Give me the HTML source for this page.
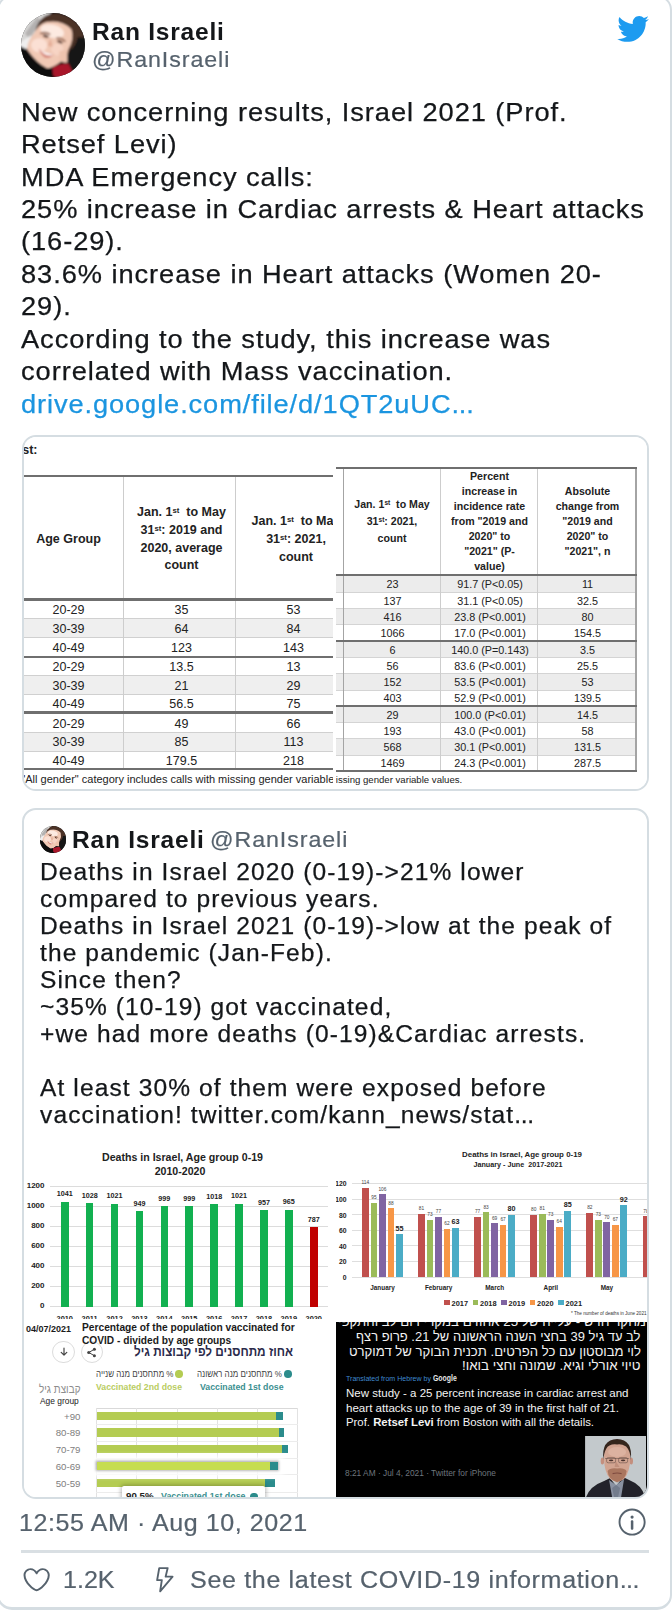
<!DOCTYPE html>
<html><head><meta charset="utf-8">
<style>
html,body{margin:0;padding:0;background:#fff;}
body{width:672px;height:1610px;position:relative;overflow:hidden;font-family:"Liberation Sans",sans-serif;color:#14171a;}
.abs{position:absolute;}
.card{position:absolute;left:-3px;top:-4.8px;width:671.4px;height:1610px;border:2px solid #d5dde2;border-bottom-width:3px;border-radius:15px;box-sizing:content-box;}
.t{-webkit-text-stroke:0.25px #14171a;position:absolute;left:20.6px;white-space:pre;font-size:25.5px;line-height:32px;letter-spacing:0.88px;transform:scaleX(1.068);transform-origin:0 0;color:#14171a;}
.name{position:absolute;font-size:23.6px;font-weight:700;letter-spacing:0.74px;transform:scaleX(1.04);transform-origin:0 0;line-height:26px;white-space:pre;color:#14171a;}
.handle{position:absolute;font-size:21.3px;letter-spacing:0.85px;transform:scaleX(1.09);transform-origin:0 0;line-height:26px;color:#56626d;-webkit-text-stroke:0.2px #56626d;white-space:pre;}
.box{position:absolute;left:21.5px;width:627px;border:2px solid #d5dde2;border-radius:14px;overflow:hidden;box-sizing:border-box;background:#fff;}
.q{-webkit-text-stroke:0.25px #14171a;position:absolute;left:39.5px;white-space:pre;font-size:23px;line-height:27px;letter-spacing:1.05px;transform:scaleX(1.066);transform-origin:0 0;color:#14171a;}
.meta{position:absolute;color:#56626d;-webkit-text-stroke:0.2px #56626d;font-size:23px;letter-spacing:0.51px;transform:scaleX(1.09);transform-origin:0 0;white-space:pre;line-height:28px;}
.c{position:absolute;white-space:pre;text-align:center;transform:translate(-50%,-50%);}
.r{position:absolute;white-space:pre;text-align:right;transform:translate(-100%,-50%);}
.l{position:absolute;white-space:pre;transform:translate(0,-50%);}
.tb{font-size:12.5px;color:#222;}
.th{font-size:12.5px;font-weight:700;color:#222;line-height:17px;}
.tb2{font-size:10.8px;color:#222;}
.th2{font-size:10.6px;font-weight:700;color:#222;line-height:14.9px;}
sup{font-size:62%;vertical-align:baseline;position:relative;top:-0.45em;}
</style></head>
<body>
<div class="card"></div>

<svg width="0" height="0" style="position:absolute"><defs>
<filter id="b1" x="-20%" y="-20%" width="140%" height="140%"><feGaussianBlur stdDeviation="0.95"/></filter>

</defs></svg>
<div id="av" class="abs" style="left:20.7px;top:12.8px;width:64.6px;height:64.6px;border-radius:50%;overflow:hidden;background:#222;">
<svg width="64.6" height="64.6" viewBox="0 0 64 64"><g filter="url(#b1)">
<rect x="-4" y="-4" width="72" height="72" fill="#141418"/>
<path d="M-4 -4 L32 -4 L20 14 L12 30 L-4 40Z" fill="#d6d5d4"/>
<path d="M4 20 L16 4 L20 8 L8 26Z" fill="#b3b1b0"/>
<path d="M-2 30 L10 22 L10 34 L-2 38Z" fill="#efeeee"/>
<path d="M14 19 Q16 8 24 3 Q34 -3 48 4 Q60 11 63 24 L56 24 Q54 34 49 36 Q47 42 45 40 Q49 28 50 17 Q40 7 25 9 Q18 12 14 19Z" fill="#4b3026"/>
<path d="M13 20 Q18 11 25 9 Q40 6 50 16 Q53 26 47 36 Q45 44 40 47 Q34 55 26 55 Q14 50 6 36 Q6 28 13 20Z" fill="#f1c9b5"/>
<ellipse cx="31" cy="18" rx="12" ry="6.5" transform="rotate(14 31 18)" fill="#fdeae1"/>
<ellipse cx="18" cy="32" rx="8" ry="7" fill="#fbe0d4"/>
<ellipse cx="36" cy="36" rx="6" ry="6" fill="#f7d4c4"/>
<path d="M38 38 L46 36 L46 49 L38 50Z" fill="#eec3ae"/>
<path d="M19 20.5 Q24 18 29 21.5" stroke="#8a5a45" stroke-width="1.6" fill="none"/>
<path d="M35 25 Q40 24 44 28.5" stroke="#8a5a45" stroke-width="1.6" fill="none"/>
<ellipse cx="24.5" cy="23" rx="3" ry="1.4" transform="rotate(14 24.5 23)" fill="#5d3c31"/>
<ellipse cx="38.5" cy="28.5" rx="3" ry="1.4" transform="rotate(22 38.5 28.5)" fill="#5d3c31"/>
<path d="M29 25 L26.5 32.5 L31.5 33.5Z" fill="#e4ad97"/>
<path d="M17.5 35.5 Q24 40.5 32.5 40.5 Q29 45.5 24 44.5 Q19.5 42 17.5 35.5Z" fill="#d88c80"/>
<path d="M18.5 36.5 Q25 40.5 32 40.8 Q26 44.5 18.5 36.5Z" fill="#ffffff"/>
<path d="M-4 33 Q3 33 8 39 Q16 50 26 55 Q32 54 40 48 L45 50 L47 68 L-4 68Z" fill="#0e0e11"/>
<path d="M31 54 Q38 50 47 50 L52 60 L40 68 L32 62Z" fill="#a8142a"/>
</g></svg></div>
<div class="name" style="left:91.8px;top:18.8px">Ran Israeli</div>
<div class="handle" style="left:92px;top:46.5px">@RanIsraeli</div>
<svg class="abs" style="left:616.1px;top:12.4px" width="33.4" height="33.8" viewBox="0 0 24 24" preserveAspectRatio="none"><path fill="#1d9bf0" d="M23.643 4.937c-.835.37-1.732.62-2.675.733.962-.576 1.7-1.49 2.048-2.578-.9.534-1.897.922-2.958 1.13-.85-.904-2.06-1.47-3.4-1.47-2.572 0-4.658 2.086-4.658 4.66 0 .364.042.718.12 1.06-3.873-.195-7.304-2.05-9.602-4.868-.4.69-.63 1.49-.63 2.342 0 1.616.823 3.043 2.072 3.878-.764-.025-1.482-.234-2.11-.583v.06c0 2.257 1.605 4.14 3.737 4.568-.392.106-.803.162-1.227.162-.3 0-.593-.028-.877-.082.593 1.85 2.313 3.198 4.352 3.234-1.595 1.25-3.604 1.995-5.786 1.995-.376 0-.747-.022-1.112-.065 2.062 1.323 4.51 2.093 7.14 2.093 8.57 0 13.255-7.098 13.255-13.254 0-.2-.005-.402-.014-.602.91-.658 1.7-1.477 2.323-2.41z"/></svg>

<div class="t" style="top:95.6px">New concerning results, Israel 2021 (Prof.</div>
<div class="t" style="top:128.1px">Retsef Levi)</div>
<div class="t" style="top:160.5px">MDA Emergency calls:</div>
<div class="t" style="top:192.9px">25% increase in Cardiac arrests &amp; Heart attacks</div>
<div class="t" style="top:225.4px">(16-29).</div>
<div class="t" style="top:257.9px">83.6% increase in Heart attacks (Women 20-</div>
<div class="t" style="top:290.3px">29).</div>
<div class="t" style="top:322.8px">According to the study, this increase was</div>
<div class="t" style="top:355.2px">correlated with Mass vaccination.</div>
<div class="t" style="top:387.6px;color:#1b95e0;-webkit-text-stroke-color:#1b95e0;letter-spacing:0.84px">drive.google.com/file/d/1QT2uUC<span style="letter-spacing:-0.2px">...</span></div>
<div class="box" id="tbl" style="top:435px;height:355.5px;">
<div class="abs" style="left:-23.5px;top:-437px;width:672px;height:1610px;">
<div class="abs" style="left:23.5px;top:437px;width:309.5px;height:352px;overflow:hidden;background:#fff;"><div class="abs" style="left:-23.5px;top:-437px;width:672px;height:1610px;">
<div class="l th" style="left:22.2px;top:449.6px;font-size:12.5px;">st:</div>
<div class="abs" style="left:23.5px;top:618.75px;width:312px;height:18.75px;background:#efefef"></div>
<div class="abs" style="left:23.5px;top:675.75px;width:312px;height:18.75px;background:#efefef"></div>
<div class="abs" style="left:23.5px;top:732.5px;width:312px;height:18.5px;background:#efefef"></div>
<div class="abs" style="left:23.5px;top:618.25px;width:312px;height:1px;background:#d0d0d0"></div>
<div class="abs" style="left:23.5px;top:637.0px;width:312px;height:1px;background:#d0d0d0"></div>
<div class="abs" style="left:23.5px;top:675.25px;width:312px;height:1px;background:#d0d0d0"></div>
<div class="abs" style="left:23.5px;top:694.0px;width:312px;height:1px;background:#d0d0d0"></div>
<div class="abs" style="left:23.5px;top:732.0px;width:312px;height:1px;background:#d0d0d0"></div>
<div class="abs" style="left:23.5px;top:750.5px;width:312px;height:1px;background:#d0d0d0"></div>
<div class="abs" style="left:122.9px;top:476px;width:1px;height:293px;background:#cdcdcd"></div>
<div class="abs" style="left:235.4px;top:476px;width:1px;height:293px;background:#cdcdcd"></div>
<div class="abs" style="left:23.5px;top:475.09999999999997px;width:312px;height:2.2px;background:#6f6f6f"></div>
<div class="abs" style="left:23.5px;top:598.4px;width:312px;height:2.2px;background:#6f6f6f"></div>
<div class="abs" style="left:23.5px;top:655.65px;width:312px;height:2.2px;background:#6f6f6f"></div>
<div class="abs" style="left:23.5px;top:711.4px;width:312px;height:2.2px;background:#6f6f6f"></div>
<div class="abs" style="left:23.5px;top:768.15px;width:312px;height:2.2px;background:#6f6f6f"></div>
<div class="c th" style="left:68.5px;top:539px">Age Group</div>
<div class="c th" style="left:181.5px;top:539px">Jan. 1<sup>st</sup>  to May
31<sup>st</sup>: 2019 and
2020, average
count</div>
<div class="c th" style="left:296px;top:539px">Jan. 1<sup>st</sup>  to May
31<sup>st</sup>: 2021,
count</div>
<div class="c tb" style="left:68.5px;top:610px">20-29</div><div class="c tb" style="left:181.5px;top:610px">35</div><div class="c tb" style="left:293.5px;top:610px">53</div>
<div class="c tb" style="left:68.5px;top:628.75px">30-39</div><div class="c tb" style="left:181.5px;top:628.75px">64</div><div class="c tb" style="left:293.5px;top:628.75px">84</div>
<div class="c tb" style="left:68.5px;top:647.5px">40-49</div><div class="c tb" style="left:181.5px;top:647.5px">123</div><div class="c tb" style="left:293.5px;top:647.5px">143</div>
<div class="c tb" style="left:68.5px;top:666.75px">20-29</div><div class="c tb" style="left:181.5px;top:666.75px">13.5</div><div class="c tb" style="left:293.5px;top:666.75px">13</div>
<div class="c tb" style="left:68.5px;top:685.5px">30-39</div><div class="c tb" style="left:181.5px;top:685.5px">21</div><div class="c tb" style="left:293.5px;top:685.5px">29</div>
<div class="c tb" style="left:68.5px;top:704.4px">40-49</div><div class="c tb" style="left:181.5px;top:704.4px">56.5</div><div class="c tb" style="left:293.5px;top:704.4px">75</div>
<div class="c tb" style="left:68.5px;top:723.5px">20-29</div><div class="c tb" style="left:181.5px;top:723.5px">49</div><div class="c tb" style="left:293.5px;top:723.5px">66</div>
<div class="c tb" style="left:68.5px;top:741.9px">30-39</div><div class="c tb" style="left:181.5px;top:741.9px">85</div><div class="c tb" style="left:293.5px;top:741.9px">113</div>
<div class="c tb" style="left:68.5px;top:760.5px">40-49</div><div class="c tb" style="left:181.5px;top:760.5px">179.5</div><div class="c tb" style="left:293.5px;top:760.5px">218</div>
<div class="l" style="left:23.2px;top:778.5px;font-size:11px;color:#222;">'All gender" category includes calls with missing gender variable values</div>
</div></div>
<div class="abs" style="left:336px;top:437px;width:310.5px;height:352px;overflow:hidden;background:#fff;"><div class="abs" style="left:-336px;top:-437px;width:672px;height:1610px;">
<div class="abs" style="left:336px;top:576.16px;width:300px;height:16.27px;background:#ececec"></div>
<div class="abs" style="left:336px;top:608.66px;width:300px;height:16.27px;background:#ececec"></div>
<div class="abs" style="left:336px;top:641.37px;width:300px;height:16.27px;background:#ececec"></div>
<div class="abs" style="left:336px;top:673.87px;width:300px;height:16.27px;background:#ececec"></div>
<div class="abs" style="left:336px;top:706.47px;width:300px;height:16.27px;background:#ececec"></div>
<div class="abs" style="left:336px;top:738.87px;width:300px;height:16.27px;background:#ececec"></div>
<div class="abs" style="left:336px;top:591.90px;width:300px;height:1px;background:#d4d4d4"></div>
<div class="abs" style="left:336px;top:608.15px;width:300px;height:1px;background:#d4d4d4"></div>
<div class="abs" style="left:336px;top:624.45px;width:300px;height:1px;background:#d4d4d4"></div>
<div class="abs" style="left:336px;top:657.15px;width:300px;height:1px;background:#d4d4d4"></div>
<div class="abs" style="left:336px;top:673.40px;width:300px;height:1px;background:#d4d4d4"></div>
<div class="abs" style="left:336px;top:689.65px;width:300px;height:1px;background:#d4d4d4"></div>
<div class="abs" style="left:336px;top:722.20px;width:300px;height:1px;background:#d4d4d4"></div>
<div class="abs" style="left:336px;top:738.40px;width:300px;height:1px;background:#d4d4d4"></div>
<div class="abs" style="left:336px;top:754.65px;width:300px;height:1px;background:#d4d4d4"></div>
<div class="abs" style="left:440.09999999999997px;top:468px;width:1px;height:303px;background:#cdcdcd"></div>
<div class="abs" style="left:536.9px;top:468px;width:1px;height:303px;background:#cdcdcd"></div>
<div class="abs" style="left:343.0px;top:468px;width:1.2px;height:303px;background:#a4a4a4"></div>
<div class="abs" style="left:635.4px;top:468px;width:1.2px;height:303px;background:#a4a4a4"></div>
<div class="abs" style="left:336px;top:466.7px;width:300.6px;height:2.2px;background:#6f6f6f"></div>
<div class="abs" style="left:336px;top:574.1px;width:300.6px;height:2.2px;background:#6f6f6f"></div>
<div class="abs" style="left:336px;top:639.6999999999999px;width:300.6px;height:2.2px;background:#6f6f6f"></div>
<div class="abs" style="left:336px;top:704.9px;width:300.6px;height:2.2px;background:#6f6f6f"></div>
<div class="abs" style="left:336px;top:770.1999999999999px;width:300.6px;height:2.2px;background:#6f6f6f"></div>
<div class="c th2" style="left:392px;top:521.2px">Jan. 1<sup>st</sup>  to May
31<sup>st</sup>: 2021,
count</div>
<div class="c th2" style="left:489.5px;top:521.4px">Percent
increase in
incidence rate
from "2019 and
2020" to
"2021" (P-
value)</div>
<div class="c th2" style="left:587.5px;top:521.2px">Absolute
change from
"2019 and
2020" to
"2021", n</div>
<div class="c tb2" style="left:392.5px;top:584.3px">23</div><div class="c tb2" style="left:490px;top:584.3px">91.7 (P&lt;0.05)</div><div class="c tb2" style="left:587.5px;top:584.3px">11</div>
<div class="c tb2" style="left:392.5px;top:600.5px">137</div><div class="c tb2" style="left:490px;top:600.5px">31.1 (P&lt;0.05)</div><div class="c tb2" style="left:587.5px;top:600.5px">32.5</div>
<div class="c tb2" style="left:392.5px;top:616.8px">416</div><div class="c tb2" style="left:490px;top:616.8px">23.8 (P&lt;0.001)</div><div class="c tb2" style="left:587.5px;top:616.8px">80</div>
<div class="c tb2" style="left:392.5px;top:633.1px">1066</div><div class="c tb2" style="left:490px;top:633.1px">17.0 (P&lt;0.001)</div><div class="c tb2" style="left:587.5px;top:633.1px">154.5</div>
<div class="c tb2" style="left:392.5px;top:649.5px">6</div><div class="c tb2" style="left:490px;top:649.5px">140.0 (P=0.143)</div><div class="c tb2" style="left:587.5px;top:649.5px">3.5</div>
<div class="c tb2" style="left:392.5px;top:665.8px">56</div><div class="c tb2" style="left:490px;top:665.8px">83.6 (P&lt;0.001)</div><div class="c tb2" style="left:587.5px;top:665.8px">25.5</div>
<div class="c tb2" style="left:392.5px;top:682px">152</div><div class="c tb2" style="left:490px;top:682px">53.5 (P&lt;0.001)</div><div class="c tb2" style="left:587.5px;top:682px">53</div>
<div class="c tb2" style="left:392.5px;top:698.3px">403</div><div class="c tb2" style="left:490px;top:698.3px">52.9 (P&lt;0.001)</div><div class="c tb2" style="left:587.5px;top:698.3px">139.5</div>
<div class="c tb2" style="left:392.5px;top:714.6px">29</div><div class="c tb2" style="left:490px;top:714.6px">100.0 (P&lt;0.01)</div><div class="c tb2" style="left:587.5px;top:714.6px">14.5</div>
<div class="c tb2" style="left:392.5px;top:730.8px">193</div><div class="c tb2" style="left:490px;top:730.8px">43.0 (P&lt;0.001)</div><div class="c tb2" style="left:587.5px;top:730.8px">58</div>
<div class="c tb2" style="left:392.5px;top:747px">568</div><div class="c tb2" style="left:490px;top:747px">30.1 (P&lt;0.001)</div><div class="c tb2" style="left:587.5px;top:747px">131.5</div>
<div class="c tb2" style="left:392.5px;top:763.3px">1469</div><div class="c tb2" style="left:490px;top:763.3px">24.3 (P&lt;0.001)</div><div class="c tb2" style="left:587.5px;top:763.3px">287.5</div>
<div class="l" style="left:330.5px;top:778.7px;font-size:9.6px;color:#222;">nissing gender variable values.</div>
</div></div>
</div></div>
<div class="box" id="quote" style="top:808px;height:690.5px;">
<div class="abs" style="left:-23.5px;top:-810px;width:672px;height:1610px;">
<div class="abs" style="left:39.8px;top:826.4px;width:26.5px;height:26.5px;border-radius:50%;overflow:hidden;background:#222;">
<svg width="26.5" height="26.5" viewBox="0 0 64 64"><g filter="url(#b1)">
<rect x="-4" y="-4" width="72" height="72" fill="#141418"/>
<path d="M-4 -4 L32 -4 L20 14 L12 30 L-4 40Z" fill="#d6d5d4"/>
<path d="M4 20 L16 4 L20 8 L8 26Z" fill="#b3b1b0"/>
<path d="M-2 30 L10 22 L10 34 L-2 38Z" fill="#efeeee"/>
<path d="M14 19 Q16 8 24 3 Q34 -3 48 4 Q60 11 63 24 L56 24 Q54 34 49 36 Q47 42 45 40 Q49 28 50 17 Q40 7 25 9 Q18 12 14 19Z" fill="#4b3026"/>
<path d="M13 20 Q18 11 25 9 Q40 6 50 16 Q53 26 47 36 Q45 44 40 47 Q34 55 26 55 Q14 50 6 36 Q6 28 13 20Z" fill="#f1c9b5"/>
<ellipse cx="31" cy="18" rx="12" ry="6.5" transform="rotate(14 31 18)" fill="#fdeae1"/>
<ellipse cx="18" cy="32" rx="8" ry="7" fill="#fbe0d4"/>
<ellipse cx="36" cy="36" rx="6" ry="6" fill="#f7d4c4"/>
<path d="M38 38 L46 36 L46 49 L38 50Z" fill="#eec3ae"/>
<path d="M19 20.5 Q24 18 29 21.5" stroke="#8a5a45" stroke-width="1.6" fill="none"/>
<path d="M35 25 Q40 24 44 28.5" stroke="#8a5a45" stroke-width="1.6" fill="none"/>
<ellipse cx="24.5" cy="23" rx="3" ry="1.4" transform="rotate(14 24.5 23)" fill="#5d3c31"/>
<ellipse cx="38.5" cy="28.5" rx="3" ry="1.4" transform="rotate(22 38.5 28.5)" fill="#5d3c31"/>
<path d="M29 25 L26.5 32.5 L31.5 33.5Z" fill="#e4ad97"/>
<path d="M17.5 35.5 Q24 40.5 32.5 40.5 Q29 45.5 24 44.5 Q19.5 42 17.5 35.5Z" fill="#d88c80"/>
<path d="M18.5 36.5 Q25 40.5 32 40.8 Q26 44.5 18.5 36.5Z" fill="#ffffff"/>
<path d="M-4 33 Q3 33 8 39 Q16 50 26 55 Q32 54 40 48 L45 50 L47 68 L-4 68Z" fill="#0e0e11"/>
<path d="M31 54 Q38 50 47 50 L52 60 L40 68 L32 62Z" fill="#a8142a"/>
</g></svg></div>
<div class="name" style="left:72.4px;top:827.1px">Ran Israeli</div>
<div class="handle" style="left:210px;top:827px">@RanIsraeli</div>
<div class="q" style="top:859.0px">Deaths in Israel 2020 (0-19)-&gt;21% lower</div>
<div class="q" style="top:886.0px">compared to previous years.</div>
<div class="q" style="top:913.1px">Deaths in Israel 2021 (0-19)-&gt;low at the peak of</div>
<div class="q" style="top:940.1px">the pandemic (Jan-Feb).</div>
<div class="q" style="top:967.1px">Since then?</div>
<div class="q" style="top:994.1px">~35% (10-19) got vaccinated,</div>
<div class="q" style="top:1021.2px">+we had more deaths (0-19)&amp;Cardiac arrests.</div>
<div class="q" style="top:1075.2px">At least 30% of them were exposed before</div>
<div class="q" style="top:1102.3px">vaccination! twitter.com/kann_news/stat<span style="letter-spacing:-0.3px">...</span></div>
<div class="abs" style="left:23.5px;top:1139px;width:309.5px;height:180px;overflow:hidden;background:#fff;"><div class="abs" style="left:-23.5px;top:-1139px;width:672px;height:1610px;font-weight:700;color:#222">
<div class="c" style="left:182.5px;top:1156.5px;font-size:10.6px;">Deaths in Israel, Age group 0-19</div>
<div class="c" style="left:180px;top:1171px;font-size:10.6px;">2010-2020</div>
<div class="abs" style="left:50px;top:1306.4px;width:278px;height:1px;background:#dcdcdc"></div>
<div class="r" style="left:44.5px;top:1305.4px;font-size:8px;">0</div>
<div class="abs" style="left:50px;top:1285.5px;width:278px;height:1px;background:#dcdcdc"></div>
<div class="r" style="left:44.5px;top:1285.4px;font-size:8px;">200</div>
<div class="abs" style="left:50px;top:1265.5px;width:278px;height:1px;background:#dcdcdc"></div>
<div class="r" style="left:44.5px;top:1265.4px;font-size:8px;">400</div>
<div class="abs" style="left:50px;top:1245.5px;width:278px;height:1px;background:#dcdcdc"></div>
<div class="r" style="left:44.5px;top:1245.4px;font-size:8px;">600</div>
<div class="abs" style="left:50px;top:1225.5px;width:278px;height:1px;background:#dcdcdc"></div>
<div class="r" style="left:44.5px;top:1225.4px;font-size:8px;">800</div>
<div class="abs" style="left:50px;top:1205.5px;width:278px;height:1px;background:#dcdcdc"></div>
<div class="r" style="left:44.5px;top:1205.4px;font-size:8px;">1000</div>
<div class="abs" style="left:50px;top:1185.5px;width:278px;height:1px;background:#dcdcdc"></div>
<div class="r" style="left:44.5px;top:1185.4px;font-size:8px;">1200</div>
<div class="abs" style="left:60.95px;top:1201.9px;width:7.6px;height:104.9px;background:#12b050"></div>
<div class="c" style="left:64.75px;top:1193.3px;font-size:7.2px;">1041</div>
<div class="c" style="left:64.75px;top:1317.6px;font-size:7.4px;">2010</div>
<div class="abs" style="left:85.85px;top:1203.2px;width:7.6px;height:103.6px;background:#12b050"></div>
<div class="c" style="left:89.65px;top:1194.6px;font-size:7.2px;">1028</div>
<div class="c" style="left:89.65px;top:1317.6px;font-size:7.4px;">2011</div>
<div class="abs" style="left:110.75px;top:1203.9px;width:7.6px;height:102.9px;background:#12b050"></div>
<div class="c" style="left:114.55px;top:1195.3px;font-size:7.2px;">1021</div>
<div class="c" style="left:114.55px;top:1317.6px;font-size:7.4px;">2012</div>
<div class="abs" style="left:135.65px;top:1211.1px;width:7.6px;height:95.7px;background:#12b050"></div>
<div class="c" style="left:139.45px;top:1202.5px;font-size:7.2px;">949</div>
<div class="c" style="left:139.45px;top:1317.6px;font-size:7.4px;">2013</div>
<div class="abs" style="left:160.55px;top:1206.1px;width:7.6px;height:100.7px;background:#12b050"></div>
<div class="c" style="left:164.35px;top:1197.5px;font-size:7.2px;">999</div>
<div class="c" style="left:164.35px;top:1317.6px;font-size:7.4px;">2014</div>
<div class="abs" style="left:185.45px;top:1206.1px;width:7.6px;height:100.7px;background:#12b050"></div>
<div class="c" style="left:189.25px;top:1197.5px;font-size:7.2px;">999</div>
<div class="c" style="left:189.25px;top:1317.6px;font-size:7.4px;">2015</div>
<div class="abs" style="left:210.35px;top:1204.2px;width:7.6px;height:102.6px;background:#12b050"></div>
<div class="c" style="left:214.15px;top:1195.6px;font-size:7.2px;">1018</div>
<div class="c" style="left:214.15px;top:1317.6px;font-size:7.4px;">2016</div>
<div class="abs" style="left:235.25px;top:1203.9px;width:7.6px;height:102.9px;background:#12b050"></div>
<div class="c" style="left:239.05px;top:1195.3px;font-size:7.2px;">1021</div>
<div class="c" style="left:239.05px;top:1317.6px;font-size:7.4px;">2017</div>
<div class="abs" style="left:260.15px;top:1210.3px;width:7.6px;height:96.5px;background:#12b050"></div>
<div class="c" style="left:263.95px;top:1201.7px;font-size:7.2px;">957</div>
<div class="c" style="left:263.95px;top:1317.6px;font-size:7.4px;">2018</div>
<div class="abs" style="left:285.05px;top:1209.5px;width:7.6px;height:97.3px;background:#12b050"></div>
<div class="c" style="left:288.85px;top:1200.9px;font-size:7.2px;">965</div>
<div class="c" style="left:288.85px;top:1317.6px;font-size:7.4px;">2019</div>
<div class="abs" style="left:309.95px;top:1227.3px;width:7.6px;height:79.5px;background:#c00000"></div>
<div class="c" style="left:313.75px;top:1218.7px;font-size:7.2px;">787</div>
<div class="c" style="left:313.75px;top:1317.6px;font-size:7.4px;">2020</div>
</div></div>
<div class="abs" style="left:336px;top:1139px;width:310.5px;height:180.5px;overflow:hidden;background:#fff;"><div class="abs" style="left:-336px;top:-1139px;width:672px;height:1610px;color:#222">
<div class="c" style="left:522px;top:1153.5px;font-size:7.9px;font-weight:700">Deaths in Israel, Age group 0-19</div>
<div class="c" style="left:518px;top:1163.8px;font-size:7.2px;font-weight:700">January - June  2017-2021</div>
<div class="abs" style="left:352px;top:1276.50px;width:296px;height:1px;background:#dedede"></div>
<div class="r" style="left:346.5px;top:1277.00px;font-size:6.8px;font-weight:700">0</div>
<div class="abs" style="left:352px;top:1260.90px;width:296px;height:1px;background:#dedede"></div>
<div class="r" style="left:346.5px;top:1261.40px;font-size:6.8px;font-weight:700">20</div>
<div class="abs" style="left:352px;top:1245.30px;width:296px;height:1px;background:#dedede"></div>
<div class="r" style="left:346.5px;top:1245.80px;font-size:6.8px;font-weight:700">40</div>
<div class="abs" style="left:352px;top:1229.70px;width:296px;height:1px;background:#dedede"></div>
<div class="r" style="left:346.5px;top:1230.20px;font-size:6.8px;font-weight:700">60</div>
<div class="abs" style="left:352px;top:1214.10px;width:296px;height:1px;background:#dedede"></div>
<div class="r" style="left:346.5px;top:1214.60px;font-size:6.8px;font-weight:700">80</div>
<div class="abs" style="left:352px;top:1198.50px;width:296px;height:1px;background:#dedede"></div>
<div class="r" style="left:346.5px;top:1199.00px;font-size:6.8px;font-weight:700">100</div>
<div class="abs" style="left:352px;top:1182.90px;width:296px;height:1px;background:#dedede"></div>
<div class="r" style="left:346.5px;top:1183.40px;font-size:6.8px;font-weight:700">120</div>
<div class="abs" style="left:362.00px;top:1188.08px;width:6.8px;height:88.92px;background:#c0504d"></div>
<div class="c" style="left:365.40px;top:1182.48px;font-size:4.8px;color:#444">114</div>
<div class="abs" style="left:370.50px;top:1202.90px;width:6.8px;height:74.10px;background:#9bbb59"></div>
<div class="c" style="left:373.90px;top:1197.30px;font-size:4.8px;color:#444">95</div>
<div class="abs" style="left:379.00px;top:1194.32px;width:6.8px;height:82.68px;background:#8064a2"></div>
<div class="c" style="left:382.40px;top:1188.72px;font-size:4.8px;color:#444">106</div>
<div class="abs" style="left:387.50px;top:1208.36px;width:6.8px;height:68.64px;background:#f79646"></div>
<div class="c" style="left:390.90px;top:1202.76px;font-size:4.8px;color:#444">88</div>
<div class="abs" style="left:396.00px;top:1234.10px;width:6.8px;height:42.90px;background:#4bacc6"></div>
<div class="c" style="left:399.40px;top:1227.50px;font-size:7.2px;font-weight:700">55</div>
<div class="c" style="left:382.50px;top:1286.5px;font-size:6.4px;font-weight:700">January</div>
<div class="abs" style="left:418.10px;top:1213.82px;width:6.8px;height:63.18px;background:#c0504d"></div>
<div class="c" style="left:421.50px;top:1208.22px;font-size:4.8px;color:#444">81</div>
<div class="abs" style="left:426.60px;top:1220.06px;width:6.8px;height:56.94px;background:#9bbb59"></div>
<div class="c" style="left:430.00px;top:1214.46px;font-size:4.8px;color:#444">73</div>
<div class="abs" style="left:435.10px;top:1216.94px;width:6.8px;height:60.06px;background:#8064a2"></div>
<div class="c" style="left:438.50px;top:1211.34px;font-size:4.8px;color:#444">77</div>
<div class="abs" style="left:443.60px;top:1228.64px;width:6.8px;height:48.36px;background:#f79646"></div>
<div class="c" style="left:447.00px;top:1223.04px;font-size:4.8px;color:#444">62</div>
<div class="abs" style="left:452.10px;top:1227.86px;width:6.8px;height:49.14px;background:#4bacc6"></div>
<div class="c" style="left:455.50px;top:1221.26px;font-size:7.2px;font-weight:700">63</div>
<div class="c" style="left:438.60px;top:1286.5px;font-size:6.4px;font-weight:700">February</div>
<div class="abs" style="left:474.20px;top:1216.94px;width:6.8px;height:60.06px;background:#c0504d"></div>
<div class="c" style="left:477.60px;top:1211.34px;font-size:4.8px;color:#444">77</div>
<div class="abs" style="left:482.70px;top:1212.26px;width:6.8px;height:64.74px;background:#9bbb59"></div>
<div class="c" style="left:486.10px;top:1206.66px;font-size:4.8px;color:#444">83</div>
<div class="abs" style="left:491.20px;top:1223.18px;width:6.8px;height:53.82px;background:#8064a2"></div>
<div class="c" style="left:494.60px;top:1217.58px;font-size:4.8px;color:#444">69</div>
<div class="abs" style="left:499.70px;top:1224.74px;width:6.8px;height:52.26px;background:#f79646"></div>
<div class="c" style="left:503.10px;top:1219.14px;font-size:4.8px;color:#444">67</div>
<div class="abs" style="left:508.20px;top:1214.60px;width:6.8px;height:62.40px;background:#4bacc6"></div>
<div class="c" style="left:511.60px;top:1208.00px;font-size:7.2px;font-weight:700">80</div>
<div class="c" style="left:494.70px;top:1286.5px;font-size:6.4px;font-weight:700">March</div>
<div class="abs" style="left:530.30px;top:1214.60px;width:6.8px;height:62.40px;background:#c0504d"></div>
<div class="c" style="left:533.70px;top:1209.00px;font-size:4.8px;color:#444">80</div>
<div class="abs" style="left:538.80px;top:1213.82px;width:6.8px;height:63.18px;background:#9bbb59"></div>
<div class="c" style="left:542.20px;top:1208.22px;font-size:4.8px;color:#444">81</div>
<div class="abs" style="left:547.30px;top:1220.06px;width:6.8px;height:56.94px;background:#8064a2"></div>
<div class="c" style="left:550.70px;top:1214.46px;font-size:4.8px;color:#444">73</div>
<div class="abs" style="left:555.80px;top:1227.08px;width:6.8px;height:49.92px;background:#f79646"></div>
<div class="c" style="left:559.20px;top:1221.48px;font-size:4.8px;color:#444">64</div>
<div class="abs" style="left:564.30px;top:1210.70px;width:6.8px;height:66.30px;background:#4bacc6"></div>
<div class="c" style="left:567.70px;top:1204.10px;font-size:7.2px;font-weight:700">85</div>
<div class="c" style="left:550.80px;top:1286.5px;font-size:6.4px;font-weight:700">April</div>
<div class="abs" style="left:586.40px;top:1213.04px;width:6.8px;height:63.96px;background:#c0504d"></div>
<div class="c" style="left:589.80px;top:1207.44px;font-size:4.8px;color:#444">82</div>
<div class="abs" style="left:594.90px;top:1220.06px;width:6.8px;height:56.94px;background:#9bbb59"></div>
<div class="c" style="left:598.30px;top:1214.46px;font-size:4.8px;color:#444">73</div>
<div class="abs" style="left:603.40px;top:1222.40px;width:6.8px;height:54.60px;background:#8064a2"></div>
<div class="c" style="left:606.80px;top:1216.80px;font-size:4.8px;color:#444">70</div>
<div class="abs" style="left:611.90px;top:1224.74px;width:6.8px;height:52.26px;background:#f79646"></div>
<div class="c" style="left:615.30px;top:1219.14px;font-size:4.8px;color:#444">67</div>
<div class="abs" style="left:620.40px;top:1205.24px;width:6.8px;height:71.76px;background:#4bacc6"></div>
<div class="c" style="left:623.80px;top:1198.64px;font-size:7.2px;font-weight:700">92</div>
<div class="c" style="left:606.90px;top:1286.5px;font-size:6.4px;font-weight:700">May</div>
<div class="abs" style="left:642.50px;top:1216.16px;width:6.8px;height:60.84px;background:#c0504d"></div>
<div class="c" style="left:645.90px;top:1210.56px;font-size:4.8px;color:#444">78</div>
<div class="abs" style="left:651.00px;top:1222.40px;width:6.8px;height:54.60px;background:#9bbb59"></div>
<div class="c" style="left:654.40px;top:1216.80px;font-size:4.8px;color:#444">70</div>
<div class="abs" style="left:659.50px;top:1222.40px;width:6.8px;height:54.60px;background:#8064a2"></div>
<div class="c" style="left:662.90px;top:1216.80px;font-size:4.8px;color:#444">70</div>
<div class="abs" style="left:668.00px;top:1222.40px;width:6.8px;height:54.60px;background:#f79646"></div>
<div class="c" style="left:671.40px;top:1216.80px;font-size:4.8px;color:#444">70</div>
<div class="abs" style="left:676.50px;top:1222.40px;width:6.8px;height:54.60px;background:#4bacc6"></div>
<div class="c" style="left:679.90px;top:1215.80px;font-size:7.2px;font-weight:700">70</div>
<div class="c" style="left:663.00px;top:1286.5px;font-size:6.4px;font-weight:700">June</div>
<div class="abs" style="left:444.0px;top:1299.6px;width:5.8px;height:5.8px;background:#c0504d"></div>
<div class="l" style="left:451.6px;top:1302.6px;font-size:7.4px;font-weight:700">2017</div>
<div class="abs" style="left:472.5px;top:1299.6px;width:5.8px;height:5.8px;background:#9bbb59"></div>
<div class="l" style="left:480.1px;top:1302.6px;font-size:7.4px;font-weight:700">2018</div>
<div class="abs" style="left:501.0px;top:1299.6px;width:5.8px;height:5.8px;background:#8064a2"></div>
<div class="l" style="left:508.6px;top:1302.6px;font-size:7.4px;font-weight:700">2019</div>
<div class="abs" style="left:529.5px;top:1299.6px;width:5.8px;height:5.8px;background:#f79646"></div>
<div class="l" style="left:537.1px;top:1302.6px;font-size:7.4px;font-weight:700">2020</div>
<div class="abs" style="left:558.0px;top:1299.6px;width:5.8px;height:5.8px;background:#4bacc6"></div>
<div class="l" style="left:565.6px;top:1302.6px;font-size:7.4px;font-weight:700">2021</div>
<div class="l" style="left:571px;top:1313.2px;font-size:4.6px;color:#333">* The number of deaths in June 2021 is partial</div>
</div></div>
<div class="abs" style="left:23.5px;top:1321.5px;width:309.5px;height:176px;overflow:hidden;background:#fff;"><div class="abs" style="left:-23.5px;top:-1321.5px;width:672px;height:1610px;color:#222">
<div class="abs" style="left:52.3px;top:1341.1px;width:22.4px;height:22.4px;border-radius:50%;border:1px solid #dcdcdc;box-sizing:border-box;background:#fff"></div>
<div class="abs" style="left:80.55px;top:1341.1px;width:22.4px;height:22.4px;border-radius:50%;border:1px solid #dcdcdc;box-sizing:border-box;background:#fff"></div>
<svg class="abs" style="left:58.5px;top:1347.3px" width="10" height="10" viewBox="0 0 10 10"><path d="M5 1.2V8M2.2 5.4L5 8.2L7.8 5.4" stroke="#444" stroke-width="1.2" fill="none" stroke-linecap="round" stroke-linejoin="round"/></svg>
<svg class="abs" style="left:86.25px;top:1346.8px" width="11" height="11" viewBox="0 0 11 11"><path d="M8.3 2.3L2.8 5.5L8.3 8.7" stroke="#444" stroke-width="1" fill="none"/><circle cx="8.4" cy="2.3" r="1.5" fill="#444"/><circle cx="2.7" cy="5.5" r="1.5" fill="#444"/><circle cx="8.4" cy="8.7" r="1.5" fill="#444"/></svg>
<div class="abs" style="left:25.5px;top:1329.2px;white-space:pre;font-size:9px;font-weight:700;color:#1b1b1b;line-height:1;transform-origin:0 50%;transform:translateY(-50%) scaleX(0.9990);">04/07/2021</div>
<div class="abs" style="left:82.3px;top:1328.1px;white-space:pre;font-size:10.4px;font-weight:700;color:#1b1b1b;line-height:1;transform-origin:0 50%;transform:translateY(-50%) scaleX(0.9824);">Percentage of the population vaccinated for</div>
<div class="abs" style="left:82.3px;top:1340.6px;white-space:pre;font-size:10.4px;font-weight:700;color:#1b1b1b;line-height:1;transform-origin:0 50%;transform:translateY(-50%) scaleX(0.9789);">COVID - divided by age groups</div>
<div class="abs" style="left:134px;top:1352.2px;white-space:pre;font-size:13.4px;font-weight:700;color:#2b2b4b;line-height:1;transform-origin:0 50%;transform:translateY(-50%) scaleX(0.8784);direction:rtl;">אחוז מתחסנים לפי קבוצות גיל</div>
<div class="abs" style="left:95.5px;top:1374.3px;white-space:pre;font-size:9.8px;font-weight:400;color:#444;line-height:1;transform-origin:0 50%;transform:translateY(-50%) scaleX(0.8167);direction:rtl;">% מתחסנים מנה שנייה</div>
<div class="abs" style="left:175.2px;top:1370.3px;width:7.4px;height:7.4px;border-radius:50%;background:#b4cc52"></div>
<div class="abs" style="left:95.5px;top:1386.9px;white-space:pre;font-size:9px;font-weight:700;color:#b9cd62;line-height:1;transform-origin:0 50%;transform:translateY(-50%) scaleX(0.9658);">Vaccinated 2nd dose</div>
<div class="abs" style="left:197px;top:1374.3px;white-space:pre;font-size:9.8px;font-weight:400;color:#444;line-height:1;transform-origin:0 50%;transform:translateY(-50%) scaleX(0.8195);direction:rtl;">% מתחסנים מנה ראשונה</div>
<div class="abs" style="left:284.2px;top:1370.2px;width:7.6px;height:7.6px;border-radius:50%;background:#2b8c8c"></div>
<div class="abs" style="left:199.5px;top:1387.2px;white-space:pre;font-size:9px;font-weight:700;color:#3b9090;line-height:1;transform-origin:0 50%;transform:translateY(-50%) scaleX(0.9704);">Vaccinated 1st dose</div>
<div class="abs" style="left:39px;top:1389.5px;white-space:pre;font-size:11.8px;font-weight:400;color:#8c8c8c;line-height:1;transform-origin:0 50%;transform:translateY(-50%) scaleX(0.8426);direction:rtl;">קבוצת גיל</div>
<div class="abs" style="left:39.75px;top:1401.2px;white-space:pre;font-size:9px;font-weight:400;color:#222;line-height:1;transform-origin:0 50%;transform:translateY(-50%) scaleX(0.9327);">Age group</div>
<div class="abs" style="left:96px;top:1407.5px;width:202px;height:1px;background:#d9d9d9"></div>
<div class="abs" style="left:96.0px;top:1407.5px;width:1px;height:92px;background:#e2e2e2"></div>
<div class="abs" style="left:136.0px;top:1407.5px;width:1px;height:92px;background:#e2e2e2"></div>
<div class="abs" style="left:176.5px;top:1407.5px;width:1px;height:92px;background:#e2e2e2"></div>
<div class="abs" style="left:216.5px;top:1407.5px;width:1px;height:92px;background:#e2e2e2"></div>
<div class="abs" style="left:256.5px;top:1407.5px;width:1px;height:92px;background:#e2e2e2"></div>
<div class="abs" style="left:297.0px;top:1407.5px;width:1px;height:92px;background:#e2e2e2"></div>
<div class="abs" style="left:96px;top:1424.1000000000001px;width:202px;height:1px;background:#ececec"></div>
<div class="abs" style="left:96px;top:1440.8000000000002px;width:202px;height:1px;background:#ececec"></div>
<div class="abs" style="left:96px;top:1457.6000000000001px;width:202px;height:1px;background:#ececec"></div>
<div class="abs" style="left:96px;top:1474.4px;width:202px;height:1px;background:#ececec"></div>
<div class="abs" style="left:96px;top:1491.7px;width:202px;height:1px;background:#ececec"></div>
<div class="r" style="left:80.5px;top:1415.7px;font-size:9.7px;color:#808080">+90</div>
<div class="abs" style="left:96.5px;top:1411.5px;width:186.3px;height:8.4px;background:#2b8c8c;"><div style="width:179.7px;height:100%;background:#b4cc52"></div></div>
<div class="r" style="left:80.5px;top:1432.4px;font-size:9.7px;color:#808080">80-89</div>
<div class="abs" style="left:96.5px;top:1428.2px;width:187.5px;height:8.4px;background:#2b8c8c;"><div style="width:182.3px;height:100%;background:#b4cc52"></div></div>
<div class="r" style="left:80.5px;top:1449.2px;font-size:9.7px;color:#808080">70-79</div>
<div class="abs" style="left:96.5px;top:1445.0px;width:191.0px;height:8.4px;background:#2b8c8c;"><div style="width:185.0px;height:100%;background:#b4cc52"></div></div>
<div class="r" style="left:80.5px;top:1466px;font-size:9.7px;color:#808080">60-69</div>
<div class="abs" style="left:96.5px;top:1461.8px;width:181.0px;height:8.4px;background:#2b8c8c;box-shadow:0 0 2.5px 1.2px rgba(0,0,0,.34),0 0 5px 6px rgba(255,255,255,.92);z-index:2;"><div style="width:173.5px;height:100%;background:#c6dd50"></div></div>
<div class="r" style="left:80.5px;top:1483.3px;font-size:9.7px;color:#808080">50-59</div>
<div class="abs" style="left:96.5px;top:1479.1px;width:178.5px;height:8.4px;background:#2b8c8c;"><div style="width:168.5px;height:100%;background:#b4cc52"></div></div>
<div class="abs" style="left:121.5px;top:1485.8px;width:143.5px;height:30px;background:#fff;box-shadow:0 0 4px 1px rgba(0,0,0,.28);border-radius:2px"></div>
<div class="abs" style="left:125.5px;top:1496.4px;white-space:pre;font-size:9.5px;font-weight:700;color:#222;line-height:1;transform-origin:0 50%;transform:translateY(-50%) scaleX(1.0209);">90.5%</div>
<div class="abs" style="left:161px;top:1496.4px;white-space:pre;font-size:8.6px;font-weight:700;color:#3b9090;line-height:1;transform-origin:0 50%;transform:translateY(-50%) scaleX(1.0283);">Vaccinated 1st dose</div>
<div class="abs" style="left:250px;top:1492.6px;width:7.5px;height:7.5px;border-radius:50%;background:#2b8c8c"></div>
</div></div>
<div class="abs" style="left:335.75px;top:1321.5px;width:310.75px;height:176px;overflow:hidden;background:#000;"><div class="abs" style="left:-335.75px;top:-1321.5px;width:672px;height:1610px;color:#fff">
<div class="abs" style="left:338px;top:1321.9px;white-space:pre;font-size:13.4px;font-weight:400;color:#f2f2f2;line-height:1;transform-origin:0 50%;transform:translateY(-50%) scaleX(0.9909);direction:rtl;">מחקר חדש - עלייה של 25 אחוזים במקרי דום לב והתקפי</div>
<div class="abs" style="left:356px;top:1336.9px;white-space:pre;font-size:13.4px;font-weight:400;color:#f2f2f2;line-height:1;transform-origin:0 50%;transform:translateY(-50%) scaleX(0.9678);direction:rtl;">לב עד גיל 39 בחצי השנה הראשונה של 21. פרופ רצף</div>
<div class="abs" style="left:348.5px;top:1352.0px;white-space:pre;font-size:13.4px;font-weight:400;color:#f2f2f2;line-height:1;transform-origin:0 50%;transform:translateY(-50%) scaleX(0.9811);direction:rtl;">לוי מבוסטון עם כל הפרטים. תכנית הבוקר של דמוקרט</div>
<div class="abs" style="left:462px;top:1366.0px;white-space:pre;font-size:13.4px;font-weight:400;color:#f2f2f2;line-height:1;transform-origin:0 50%;transform:translateY(-50%) scaleX(1.0002);direction:rtl;">טיוי אורלי וגיא. שמונה וחצי בואו!</div>
<div class="abs" style="left:345.75px;top:1378px;white-space:pre;font-size:7px;font-weight:400;color:#3f8ad0;line-height:1;transform-origin:0 50%;transform:translateY(-50%) scaleX(1.0098);">Translated from Hebrew by</div>
<div class="abs" style="left:433.25px;top:1377.8px;white-space:pre;font-size:8.6px;font-weight:700;color:#e6e6e6;line-height:1;transform-origin:0 50%;transform:translateY(-50%) scaleX(0.8021);">Google</div>
<div class="abs" style="left:345.75px;top:1393.5px;white-space:pre;font-size:11.5px;font-weight:400;color:#f4f4f4;line-height:1;transform-origin:0 50%;transform:translateY(-50%) scaleX(1.0022);">New study - a 25 percent increase in cardiac arrest and</div>
<div class="abs" style="left:345.75px;top:1408.6px;white-space:pre;font-size:11.5px;font-weight:400;color:#f4f4f4;line-height:1;transform-origin:0 50%;transform:translateY(-50%) scaleX(1.0048);">heart attacks up to the age of 39 in the first half of 21.</div>
<div class="abs" style="left:345.75px;top:1423.2px;white-space:pre;font-size:11.5px;font-weight:400;color:#f4f4f4;line-height:1;transform-origin:0 50%;transform:translateY(-50%) scaleX(0.9872);">Prof. <b>Retsef Levi</b> from Boston with all the details.</div>
<div class="abs" style="left:345px;top:1472.6px;white-space:pre;font-size:8.3px;font-weight:400;color:#6e767d;line-height:1;transform-origin:0 50%;transform:translateY(-50%) scaleX(1.0053);">8:21 AM · Jul 4, 2021 · Twitter for iPhone</div>
<svg class="abs" style="left:585.3px;top:1436px" width="61.2" height="61" viewBox="0 0 61 61">
<defs><filter id="b2" x="-10%" y="-10%" width="120%" height="120%"><feGaussianBlur stdDeviation="0.55"/></filter></defs>
<rect width="61" height="61" fill="#c3c9cc"/>
<g filter="url(#b2)">
<path d="M1 61 Q5 50 19 45 L25 42 L31 50 L38 41 L44 44 Q57 49 60 61Z" fill="#222429"/>
<path d="M24 44 L27 61 L36 61 L39 43 L31 49Z" fill="#8a92a2"/>
<path d="M27 52 L31 49 L35 52 L33 61 L29 61Z" fill="#737b8c"/>
<ellipse cx="17.3" cy="25" rx="1.7" ry="3.6" fill="#c48f7e"/><ellipse cx="46.2" cy="25" rx="1.7" ry="3.6" fill="#c48f7e"/>
<path d="M19 22 Q18 5 32 4 Q46 5 45 22 Q45 36 39 43 Q32 48 25 43 Q19 36 19 22Z" fill="#d2a491"/>
<ellipse cx="32" cy="16" rx="9" ry="5" fill="#dcb2a0"/>
<path d="M18.3 24 Q16 3.5 32 3 Q48 3.5 45.7 24 Q45.5 15 41 10.5 Q36 7.5 32 8.5 Q24 7.5 21 13 Q18.8 17 18.3 24Z" fill="#35251f"/>
<path d="M22.5 35 Q25 31.5 32 32.5 Q39 31.5 41.5 35 Q41 43 32 46.5 Q23 43 22.5 35Z" fill="#a06a52" opacity=".8"/>
<path d="M27.5 37.6 Q32 36.4 36.5 37.6" stroke="#7e4b40" stroke-width="1.1" fill="none"/>
<path d="M30.5 25 L29.5 31 L34.5 31Z" fill="#c08f7c"/>
<ellipse cx="26" cy="24.3" rx="2.2" ry="0.9" fill="#4a332d"/><ellipse cx="38" cy="24.3" rx="2.2" ry="0.9" fill="#4a332d"/>
<path d="M20 22.6 H44" stroke="#5a4640" stroke-width="0.7" opacity=".8"/>
<rect x="21.5" y="21.6" width="9" height="5.2" rx="1.6" fill="none" stroke="#58443e" stroke-width="0.6" opacity=".85"/>
<rect x="33.5" y="21.6" width="9" height="5.2" rx="1.6" fill="none" stroke="#58443e" stroke-width="0.6" opacity=".85"/>
</g></svg>
</div></div>
</div></div>
<div class="meta" style="left:19px;top:1508.6px">12:55 AM · Aug 10, 2021</div>
<svg class="abs" style="left:617.3px;top:1506.8px" width="30.2" height="30.2" viewBox="0 0 24 24"><g fill="#56626d"><path d="M12 18.042c-.553 0-1-.447-1-1v-5.5c0-.553.447-1 1-1s1 .447 1 1v5.5c0 .553-.447 1-1 1z"/><circle cx="12" cy="8.042" r="1.25"/><path d="M12 22.75C6.072 22.75 1.25 17.928 1.25 12S6.072 1.25 12 1.25 22.75 6.072 22.75 12 17.928 22.75 12 22.75zm0-20C6.9 2.75 2.75 6.9 2.75 12S6.9 21.25 12 21.25s9.25-4.15 9.25-9.25S17.1 2.75 12 2.75z"/></g></svg>
<div class="abs" style="left:21px;top:1550.2px;width:627.5px;height:2.4px;background:#d9dfe3"></div>
<svg class="abs" style="left:20.9px;top:1565.1px" width="31.3" height="29" viewBox="0 0 24 24" preserveAspectRatio="none"><path fill="#56626d" d="M12 21.638h-.014C9.403 21.59 1.95 14.856 1.95 8.478c0-3.064 2.525-5.754 5.403-5.754 2.29 0 3.83 1.58 4.646 2.73.814-1.148 2.354-2.73 4.645-2.73 2.88 0 5.404 2.69 5.404 5.755 0 6.376-7.454 13.11-10.037 13.157H12zM7.354 4.225c-2.08 0-3.903 1.988-3.903 4.255 0 5.74 7.034 11.596 8.55 11.658 1.518-.062 8.55-5.917 8.55-11.658 0-2.267-1.823-4.255-3.903-4.255-2.528 0-3.94 2.936-3.952 2.965-.23.562-1.156.562-1.387 0-.014-.03-1.425-2.965-3.954-2.965z"/></svg>
<div class="meta" style="left:63.4px;top:1565.7px;letter-spacing:0">1.2K</div>
<svg class="abs" style="left:148.8px;top:1564.7px" width="29.8" height="28.9" viewBox="0 0 24 24" preserveAspectRatio="none"><path fill="#56626d" d="M8.98 22.698c-.103 0-.205-.02-.302-.063-.31-.135-.49-.46-.44-.794l1.228-8.527H6.542c-.22 0-.43-.098-.573-.266-.144-.17-.204-.393-.167-.61L7.49 2.5c.062-.36.373-.625.74-.625h6.81c.23 0 .447.105.59.285.142.18.194.415.14.64l-1.446 6.075H19c.29 0 .553.166.678.428.124.262.087.57-.096.796L9.562 22.42c-.146.18-.362.276-.583.276zM7.43 11.812h2.903c.218 0 .425.095.568.26.144.164.208.382.177.598l-.966 6.7 7.313-8.995h-4.05c-.228 0-.445-.105-.588-.285-.142-.18-.194-.415-.14-.64l1.446-6.075H8.864L7.43 11.812z"/></svg>
<div class="meta" style="left:189.5px;top:1565.7px;letter-spacing:0.6px">See the latest COVID-19 information<span style="letter-spacing:-0.6px">...</span></div>
</body></html>
